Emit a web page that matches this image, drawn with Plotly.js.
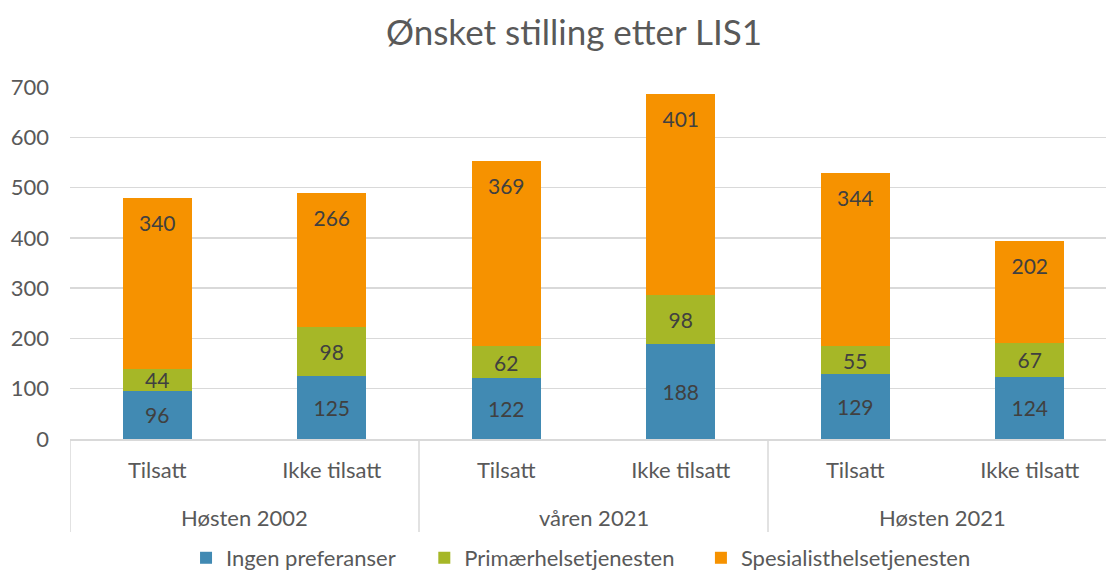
<!DOCTYPE html>
<html><head><meta charset="utf-8">
<script src="https://cdn.plot.ly/plotly-3.0.1.min.js"></script>
<style>html,body{margin:0;padding:0;background:#fff}#chart{width:1106px;height:573px}</style>
</head><body><div id="chart"></div>
<script>
const periods = ["Høsten 2002","Høsten 2002","våren 2021","våren 2021","Høsten 2021","Høsten 2021"];
const status = ["Tilsatt","Ikke tilsatt","Tilsatt","Ikke tilsatt","Tilsatt","Ikke tilsatt"];
const ingen = [96,125,122,188,129,124];
const primaer = [44,98,62,98,55,67];
const spesialist = [340,266,369,401,344,202];
const seriesNames = ["Ingen preferanser","Primærhelsetjenesten","Spesialisthelsetjenesten"];
const colors = ["#418ab3","#a6b727","#f69200"];
const FONT = "Lato, 'Open Sans', sans-serif";
const TXT = '#595959';
const idx = status.map((_, i) => i);
const vals = [ingen, primaer, spesialist];
const legendIds = ['legend', 'legend2', 'legend3'];

const data = vals.map((v, i) => ({
  type: 'bar', name: seriesNames[i], x: idx, y: v, legend: legendIds[i],
  marker: {color: colors[i], line: {width: 0}},
  text: i < 2 ? v.map(String) : v.map(() => ''),
  textposition: 'inside', insidetextanchor: 'middle', textangle: 0,
  textfont: {family: FONT, size: 21, color: '#404040'}, hoverinfo: 'none'
}));
// labels for top segment, placed near the inside end
const totals = idx.map(i => ingen[i] + primaer[i] + spesialist[i]);
data.push({
  type: 'scatter', mode: 'markers+text', x: idx, y: totals, showlegend: false,
  marker: {size: 26, opacity: 0}, text: spesialist.map(String), textposition: 'bottom center',
  textfont: {family: FONT, size: 21, color: '#404040'}, hoverinfo: 'none', cliponaxis: false
});

// group labels and dividers derived from periods
const groups = [];
periods.forEach((p, i) => {
  const g = groups[groups.length - 1];
  if (g && g.name === p) g.end = i; else groups.push({name: p, start: i, end: i});
});
const annotations = groups.map(g => ({
  x: (g.start + g.end) / 2, xref: 'x', y: -0.224, yref: 'paper', yanchor: 'middle',
  text: g.name, showarrow: false, font: {family: FONT, size: 22, color: TXT}
}));
const bounds = [groups[0].start - 0.5].concat(groups.map(g => g.end + 0.5));
const shapes = bounds.map(b => ({
  type: 'line', xref: 'x', yref: 'paper', x0: b, x1: b, y0: 0, y1: -0.264,
  line: {color: '#d9d9d9', width: 1.5}
}));

const legendX = [0.112, 0.342, 0.609];
const mkLegend = x => ({orientation: 'h', x: x, xanchor: 'left', y: -0.338, yanchor: 'middle',
  font: {family: FONT, size: 22, color: TXT}, itemwidth: 30, bgcolor: 'rgba(0,0,0,0)'});

const layout = {
  width: 1106, height: 573, barmode: 'stack', bargap: 0.605,
  margin: {l: 70, r: 0, t: 87, b: 134, autoexpand: false},
  paper_bgcolor: '#fff', plot_bgcolor: '#fff',
  font: {family: FONT, color: TXT},
  title: {text: 'Ønsket stilling etter LIS1', font: {family: FONT, size: 35, color: TXT},
    x: 0.519, xanchor: 'center', y: 0.942, yanchor: 'middle'},
  uniformtext: {minsize: 21, mode: 'show'},
  showlegend: true,
  xaxis: {type: 'linear', range: [-0.5, 5.437], tickvals: idx, ticktext: status,
    tickfont: {family: FONT, size: 22, color: TXT}, showgrid: false, zeroline: false,
    showline: true, linecolor: '#d9d9d9', linewidth: 1.5, ticks: '', automargin: false, ticklabelstandoff: 11},
  yaxis: {range: [0, 700], dtick: 100, showgrid: true, gridcolor: '#d9d9d9', gridwidth: 1.3, zeroline: false,
    tickfont: {family: FONT, size: 22, color: TXT}, ticks: '', automargin: false, ticklabelstandoff: 20},
  legend: mkLegend(legendX[0]), legend2: mkLegend(legendX[1]), legend3: mkLegend(legendX[2]),
  annotations: annotations, shapes: shapes
};
Plotly.newPlot('chart', data, layout, {displayModeBar: false, staticPlot: true});
</script></body></html>
